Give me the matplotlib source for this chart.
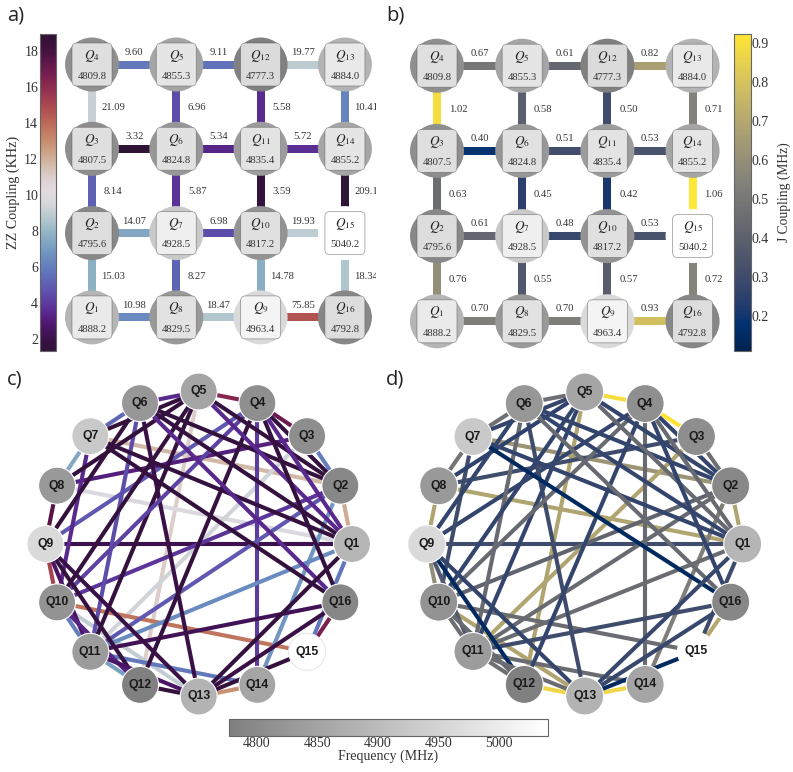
import numpy as np
import matplotlib
matplotlib.use('Agg')
import matplotlib.pyplot as plt
from matplotlib.cm import ScalarMappable
from matplotlib.colors import LinearSegmentedColormap, LogNorm, Normalize
from matplotlib.patches import Circle, FancyBboxPatch

plt.rcParams['font.family'] = ['Liberation Serif', 'DejaVu Serif']
plt.rcParams['mathtext.fontset'] = 'stix'

W, H = 793, 772

qubit_grid = [[4, 5, 12, 13], [3, 6, 11, 14], [2, 7, 10, 15], [1, 8, 9, 16]]
freqs = {1: 4888.2, 2: 4795.6, 3: 4807.5, 4: 4809.8, 5: 4855.3, 6: 4824.8, 7: 4928.5, 8: 4829.5,
         9: 4963.4, 10: 4817.2, 11: 4835.4, 12: 4777.3, 13: 4884.0, 14: 4855.2, 15: 5040.2, 16: 4792.8}

# horizontal couplers row by row, vertical couplers column by column
zz_h = [[9.60, 9.11, 19.77], [3.32, 5.34, 5.72], [14.07, 6.98, 19.93], [10.98, 18.47, 75.85]]
zz_v = [[21.09, 8.14, 15.03], [6.96, 5.87, 8.27], [5.58, 3.59, 14.78], [10.41, 209.1, 18.34]]
zz_h_txt = [['9.60', '9.11', '19.77'], ['3.32', '5.34', '5.72'], ['14.07', '6.98', '19.93'], ['10.98', '18.47', '75.85']]
zz_v_txt = [['21.09', '8.14', '15.03'], ['6.96', '5.87', '8.27'], ['5.58', '3.59', '14.78'], ['10.41', '209.1', '18.34']]
j_h = [[0.67, 0.61, 0.82], [0.40, 0.51, 0.53], [0.61, 0.48, 0.53], [0.70, 0.70, 0.93]]
j_v = [[1.02, 0.63, 0.76], [0.58, 0.45, 0.55], [0.50, 0.42, 0.57], [0.71, 1.06, 0.72]]

# long range pairs for the circle plots, colours
chord_pairs = [(1, 2), (2, 3), (3, 4), (4, 5), (5, 6), (6, 7), (7, 8), (8, 9), (9, 10), (10, 11), (11, 12),
               (12, 13), (13, 14), (15, 16), (1, 15),
               (7, 2), (5, 12), (8, 1), (9, 1), (3, 11), (10, 15), (4, 14), (2, 14), (10, 13), (11, 14),
               (11, 1), (11, 2), (11, 16), (10, 2), (9, 4), (8, 3), (7, 10), (6, 11), (6, 13), (6, 9),
               (5, 8), (5, 7), (5, 10), (5, 11), (4, 12), (4, 10), (5, 2), (6, 2), (6, 1), (7, 1),
               (7, 16), (6, 16), (4, 2), (4, 1), (5, 1), (4, 16), (1, 13), (16, 13), (9, 13), (9, 12),
               (9, 11), (10, 12), (11, 13), (15, 13)]
chord_zz = [42, 10, 130, 110, 5.5, 8.5, 14, 150, 85, 10, 13,
            3.5, 50, 120, 9.5,
            38, 32, 24, 4, 22, 60, 6.3, 12, 20, 9.5,
            11, 7.5, 4.2, 6, 7.5, 5, 5.5, 7, 3.8, 3.6,
            3.5, 3.5, 3.6, 3.6, 3.6, 6.5, 3.6, 3.6, 3.6, 3.6,
            3.5, 5.5, 3.6, 5.5, 5.5, 3.6, 3.6, 3.8, 3.8, 3.6,
            4.5, 5.2, 4.5, 3.5]
chord_j = [0.84, 0.64, 1.04, 1.02, 0.64, 0.64, 0.66, 0.84, 0.76, 0.64, 0.64,
           1.0, 1.0, 0.85, 0.5,
           0.78, 0.84, 0.84, 0.5, 0.84, 0.63, 0.62, 0.7, 0.84, 0.63,
           0.63, 0.62, 0.5, 0.6, 0.47, 0.5, 0.5, 0.62, 0.5, 0.47,
           0.46, 0.47, 0.47, 0.47, 0.47, 0.62, 0.47, 0.47, 0.47, 0.47,
           0.36, 0.62, 0.47, 0.62, 0.62, 0.47, 0.48, 0.48, 0.47, 0.36,
           0.55, 0.62, 0.63, 0.36]

zz_ticks = [2, 4, 6, 8, 10, 12, 14, 16, 18]
j_ticks = [0.2, 0.3, 0.4, 0.5, 0.6, 0.7, 0.8, 0.9]
freq_ticks = [4800, 4850, 4900, 4950, 5000]

freq_cmap = LinearSegmentedColormap.from_list('freq', [(0.5, 0.5, 0.5), (1, 1, 1)])
freq_norm = Normalize(4777.3, 5040.2)
zz_norm = LogNorm(3.32, 209.1)
j_norm = Normalize(0.33, 1.05)
zz_cmap = plt.get_cmap('twilight_shifted')
j_cmap = plt.get_cmap('cividis')
TXT = '#333333'


def add_axes_px(fig, left, top, right, bottom):
    return fig.add_axes([left / W, 1 - bottom / H, (right - left) / W, (bottom - top) / H])


def grid_panel(fig, x0, y0, step, h_vals, v_vals, cmap, norm, h_txt, v_txt, dy_label):
    # axes are in units of qubit spacing, one unit = step pixels
    pad = 31 / step
    ax = add_axes_px(fig, x0 - 31, y0 - 31, x0 + 3 * step + 31, y0 + 3 * step + 31)
    ax.set_xlim(-pad, 3 + pad)
    ax.set_ylim(3 + pad, -pad)
    ax.axis('off')
    lw = 8 * 72 / 100
    for r in range(4):
        for c in range(3):
            ax.plot([c, c + 1], [r, r], color=cmap(norm(h_vals[r][c])), lw=lw, solid_capstyle='butt', zorder=1)
            ax.text(c + 0.5, r - dy_label / step, h_txt[r][c], ha='center', va='center', fontsize=7.7, color=TXT,
                    clip_on=True)
    for c in range(4):
        for r in range(3):
            ax.plot([c, c], [r, r + 1], color=cmap(norm(v_vals[c][r])), lw=lw, solid_capstyle='butt', zorder=1)
            ax.text(c + 21 / step, r + 0.5 + 1 / step, v_txt[c][r], ha='center', va='center', fontsize=7.7, color=TXT,
                    clip_on=True)
    rad = 27 / step
    for r in range(4):
        for c in range(4):
            q = qubit_grid[r][c]
            ax.add_patch(Circle((c, r), rad, fc=freq_cmap(freq_norm(freqs[q])), ec='none', zorder=2))
            hw, hh = 16.5 / step, 18 / step
            ax.add_patch(FancyBboxPatch((c - hw, r - hh), 2 * hw, 2 * hh,
                                        boxstyle='round,pad=%f,rounding_size=%f' % (3.5 / step, 5 / step),
                                        fc=(1, 1, 1, 0.72), ec=(0.35, 0.35, 0.35, 0.55), lw=0.6, zorder=3))
            ax.text(c, r - 9 / step, '$Q_{%d}$' % q, ha='center', va='center', fontsize=9.5, color='#222222', zorder=4)
            ax.text(c, r + 11.7 / step, '%.1f' % freqs[q], ha='center', va='center', fontsize=7.7, color=TXT, zorder=4)


def circle_panel(fig, cx, cy, rx, ry, rad, values, cmap, norm, q15_edge):
    ax = add_axes_px(fig, cx - rx - 25, cy - ry - 25, cx + rx + 25, cy + ry + 25)
    ax.set_xlim(cx - rx - 25, cx + rx + 25)
    ax.set_ylim(cy + ry + 25, cy - ry - 25)
    ax.axis('off')
    pos = {}
    for q in range(1, 17):
        a = np.deg2rad((q - 1) * 22.5)
        pos[q] = (cx + rx * np.cos(a), cy - ry * np.sin(a))
    lw = 4.1 * 72 / 100
    for (a, b), v in zip(chord_pairs, values):
        ax.plot([pos[a][0], pos[b][0]], [pos[a][1], pos[b][1]], color=cmap(norm(v)), lw=lw,
                solid_capstyle='butt', zorder=1)
    for q in range(1, 17):
        ec = q15_edge if q == 15 else 'white'
        ax.add_patch(Circle(pos[q], rad, fc=freq_cmap(freq_norm(freqs[q])), ec=ec, lw=0.8, zorder=2))
        ax.text(pos[q][0], pos[q][1], 'Q%d' % q, ha='center', va='center', fontsize=8.8, fontweight='bold',
                family='Liberation Sans', color='#1a1a1a', zorder=3)


def style_cbar(cb, label, side, size, pad):
    cb.outline.set_edgecolor('#666666')
    cb.outline.set_linewidth(0.8)
    cb.ax.tick_params(length=0, labelsize=10, labelcolor=TXT, pad=1)
    cb.set_label(label, fontsize=size, color=TXT, labelpad=pad)
    if side == 'left':
        cb.ax.yaxis.set_ticks_position('left')
        cb.ax.yaxis.set_label_position('left')


fig = plt.figure(figsize=(W / 100, H / 100), dpi=100)

grid_panel(fig, 92, 64.5, 84.3, zz_h, zz_v, zz_cmap, zz_norm, zz_h_txt, zz_v_txt, 12)
j_h_txt = [['%.2f' % v for v in row] for row in j_h]
j_v_txt = [['%.2f' % v for v in col] for col in j_v]
grid_panel(fig, 437, 65.7, 85.2, j_h, j_v, j_cmap, j_norm, j_h_txt, j_v_txt, 12.4)

circle_panel(fig, 198.7, 544, 153.3, 152.5, 18.5, chord_zz, zz_cmap, zz_norm, '#e8e8e8')
circle_panel(fig, 584.7, 544, 158, 152, 19, chord_j, j_cmap, j_norm, 'white')

cax_a = add_axes_px(fig, 39.5, 33.5, 56, 351)
cb_a = fig.colorbar(ScalarMappable(Normalize(1.33, 19), zz_cmap), cax=cax_a, ticks=zz_ticks)
style_cbar(cb_a, 'ZZ Coupling (KHz)', 'left', 10.2, 3)

cax_b = add_axes_px(fig, 733.5, 33.5, 750.5, 351)
cb_b = fig.colorbar(ScalarMappable(Normalize(0.11, 0.924), j_cmap), cax=cax_b, ticks=j_ticks)
style_cbar(cb_b, 'J Coupling (MHz)', 'right', 9.8, 6)

cax_f = add_axes_px(fig, 229, 719, 548, 735.5)
cb_f = fig.colorbar(ScalarMappable(freq_norm, freq_cmap), cax=cax_f, orientation='horizontal', ticks=freq_ticks)
style_cbar(cb_f, 'Frequency (MHz)', 'bottom', 10, 0)

for label, x, y in [('a)', 7, 16), ('b)', 386, 16), ('c)', 7, 380), ('d)', 386, 380)]:
    fig.text(x / W, 1 - y / H, label, fontsize=14.5, family='Open Sans', color='#222222', va='center')

fig.savefig('out.png', dpi=100)
